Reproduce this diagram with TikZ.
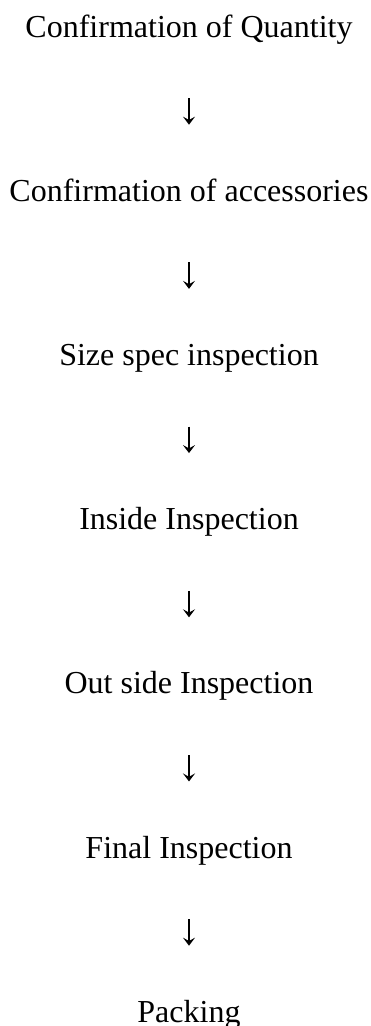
\documentclass[tikz,border=0pt]{standalone}
\usepackage{fontspec}
\setmainfont{Liberation Serif}
\usetikzlibrary{arrows.meta}
\tikzset{
  stage/.style={inner sep=0pt, anchor=base, font=\fontsize{24pt}{28pt}\selectfont,
    text height=16pt, text depth=5pt},
  flow/.style={line width=1pt, shorten <=40.7pt, shorten >=41.2pt,
    -{Stealth[length=6pt, width=9pt, inset=2.5pt]}}
}
\begin{document}
\begin{tikzpicture}[x=0.75pt,y=-0.75pt]
\useasboundingbox[fill=white] (0,0) rectangle (371,1026);
\node[stage] (s1) at (189,37) {Confirmation of Quantity};
\node[stage] (s2) at (189,201.2) {Confirmation of accessories};
\node[stage] (s3) at (189,365.4) {Size spec inspection};
\node[stage] (s4) at (189,529.6) {Inside Inspection};
\node[stage] (s5) at (189,693.8) {Out side Inspection};
\node[stage] (s6) at (189,858) {Final Inspection};
\node[stage] (s7) at (189,1022.2) {Packing};
\foreach \a/\b in {s1/s2,s2/s3,s3/s4,s4/s5,s5/s6,s6/s7}
  \draw[flow] (\a.south) -- (\b.north);
\end{tikzpicture}
\end{document}
